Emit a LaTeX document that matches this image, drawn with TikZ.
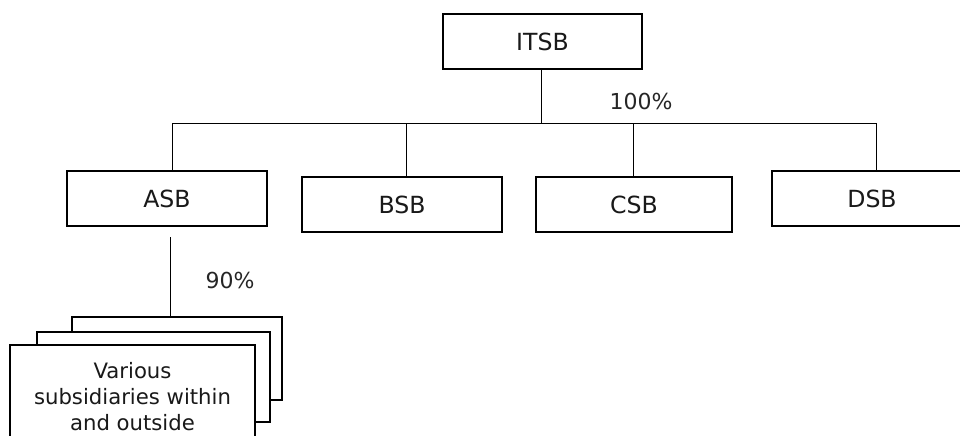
\documentclass[tikz,border=0pt]{standalone}
\usepackage{fontspec}
\setmainfont{DejaVu Sans}
\begin{document}
\begin{tikzpicture}[x=0.5pt,y=-0.5pt,
  box/.style={draw=black,line width=0.65pt,fill=white,minimum width=100pt,minimum height=27.5pt,inner sep=0pt,font=\fontsize{11.8}{13}\selectfont,text=black!90},
  conn/.style={draw=black,line width=0.5pt},
  pct/.style={font=\fontsize{11}{13}\selectfont,text=black!85,inner sep=0pt}]
\path[use as bounding box] (0,0) rectangle (960,435);
\clip (0,0) rectangle (960,435);
% top
\node[box,minimum width=99.5pt] (itsb) at (542.5,41.5) {ITSB};
\coordinate (bl) at (172,123);
\coordinate (br) at (876,123);
\coordinate (bm) at (541,123);
% second row
\node[box] (asb) at (167,198.5) {ASB};
\node[box] (bsb) at (402,204.5) {BSB};
\node[box,minimum width=98pt] (csb) at (634,204.5) {CSB};
\node[box] (dsb) at (872,198.5) {DSB};
% connectors
\draw[conn] (itsb.south -| bm) -- (bm);
\draw[conn] (bl) -- (br);
\draw[conn] (bl) -- (bl |- asb.north);
\draw[conn] (406,123) -- (406,177);
\draw[conn] (633,123) -- (633,177);
\draw[conn] (br) -- (br |- dsb.north);
\node[pct] (p100) at (641,101) {100\%};
% stacked subsidiaries
\node[box,minimum width=105pt,minimum height=41.5pt] (back) at (177,358.5) {};
\node[box,minimum width=116.5pt,minimum height=45pt] (mid) at (153.5,377) {};
\node[box,minimum width=122.5pt,minimum height=67.5pt] (front) at (132.5,412.5) {};
\node[align=center,inner sep=0pt,font=\fontsize{10.6}{13}\selectfont,text=black!90,anchor=north] (ftext) at (132.5,362) {Various\\subsidiaries within\\and outside};
\coordinate (sub) at (170,237);
\draw[conn] (sub) -- (sub |- back.north);
\node[pct] (p90) at (230,280) {90\%};
\end{tikzpicture}
\end{document}
